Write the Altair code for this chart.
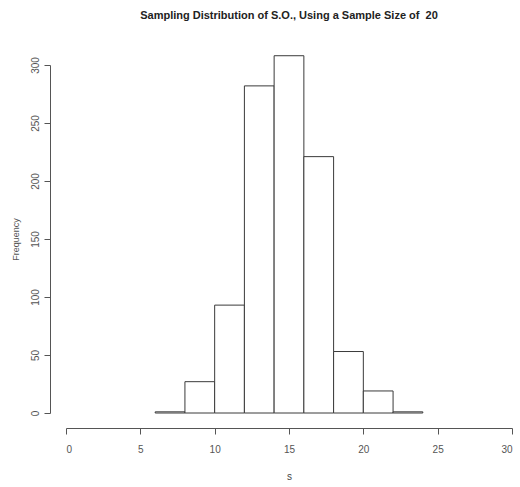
import altair as alt
import pandas as pd

bin_start = [6, 8, 10, 12, 14, 16, 18, 20, 22]
bin_end = [8, 10, 12, 14, 16, 18, 20, 22, 24]
counts = [1, 27, 93, 282, 308, 221, 53, 19, 1]
x_ticks = [0, 5, 10, 15, 20, 25, 30]
y_ticks = [0, 50, 100, 150, 200, 250, 300]

df = pd.DataFrame({"start": bin_start, "end": bin_end, "count": counts})

FONT = "Liberation Sans"

chart = alt.Chart(df).mark_bar(
    fill="white", stroke="#3a3a3a", strokeWidth=1
).encode(
    x=alt.X("start:Q", scale=alt.Scale(domain=[0, 30], nice=False, zero=False),
            axis=alt.Axis(values=x_ticks, title="s", offset=15, tickSize=6,
                          labelPadding=10, titlePadding=17, grid=False,
                          labelFontSize=10, titleFontSize=10,
                          labelColor="#555555", titleColor="#444444",
                          domainColor="#555555", tickColor="#555555",
                          titleFontWeight="normal", labelFont=FONT, titleFont=FONT)),
    x2="end:Q",
    y=alt.Y("count:Q", scale=alt.Scale(domain=[0, 300], nice=False),
            axis=alt.Axis(values=y_ticks, title="Frequency", offset=16, tickSize=6,
                          labelAngle=270, labelAlign="center", labelBaseline="bottom",
                          labelPadding=4, titlePadding=10, grid=False,
                          labelFontSize=10, titleFontSize=9,
                          labelColor="#555555", titleColor="#555555",
                          domainColor="#555555", tickColor="#555555",
                          titleFontWeight="normal", labelFont=FONT, titleFont=FONT)),
    y2=alt.datum(0),
).properties(
    width=446,
    height=348,
    padding={"left": 66, "top": 65, "right": 8, "bottom": 74},
    autosize=alt.AutoSizeParams(type="none"),
    title=alt.TitleParams("Sampling Distribution of S.O., Using a Sample Size of\u00a0 20",
                          anchor="middle", fontSize=11, fontWeight="bold",
                          font=FONT, color="#222222", offset=34),
).configure_view(stroke=None)

chart.save("out.html", embed_options={"renderer": "svg", "actions": False})
